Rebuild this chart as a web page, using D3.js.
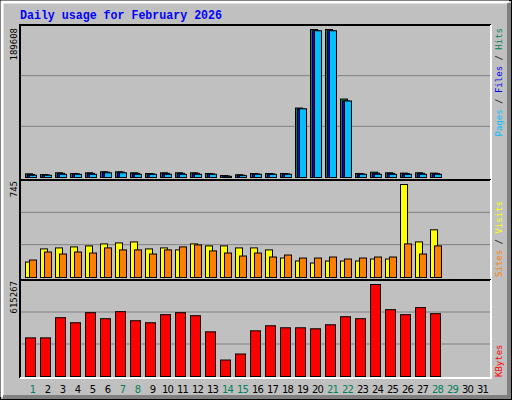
<!DOCTYPE html>
<html>
<head>
<meta charset="utf-8">
<script src="https://cdn.jsdelivr.net/npm/d3@7"></script>
<style>
  body { margin: 0; background: #fff; }
  text { font-family: "DejaVu Sans Mono", monospace; }
</style>
</head>
<body>
<div id="chart"></div>
<script>
const days = d3.range(1, 32);
const weekendDays = [1, 7, 8, 14, 15, 21, 22, 28, 29];

const hits = [4700, 3800, 6000, 5100, 6000, 7300, 7300, 6000, 5100, 6000, 6000, 6000, 5100, 2500, 3500, 5100, 5100, 5100,
  89000, 189608, 189608, 100500, 5100, 6800, 6000, 5600, 6000, 5600];
const files = [3800, 3200, 5300, 4600, 5300, 6800, 6800, 5300, 4600, 5300, 5300, 5300, 4600, 2000, 3000, 4600, 4600, 4600,
  88000, 188000, 188000, 98000, 4600, 5600, 5300, 4900, 5300, 5000];
const pages = [2900, 2900, 4100, 4100, 4100, 6000, 6000, 4100, 4100, 4100, 4100, 4100, 4100, 1500, 2400, 4100, 4100, 4100,
  88000, 188000, 188000, 98000, 4100, 4100, 4100, 4100, 4100, 4100];
const visits = [124, 229, 237, 245, 253, 269, 277, 285, 229, 237, 221, 269, 253, 253, 237, 237, 221, 156,
  132, 116, 132, 132, 132, 148, 148, 745, 285, 382];
const sites = [140, 204, 188, 204, 196, 237, 221, 221, 188, 221, 245, 261, 213, 196, 172, 196, 164, 180,
  156, 156, 164, 148, 156, 164, 164, 269, 188, 253];
const kbytes = [258300, 258300, 393100, 359400, 426800, 386400, 433600, 372900, 359400, 413400, 426800, 406600, 298700,
  110100, 150500, 305500, 339200, 325700, 325700, 319000, 345900, 399800, 386400, 615267, 447000, 413400, 460500, 420100];

const W = 512, H = 400;
const svg = d3.select("#chart").append("svg").attr("width", W).attr("height", H);

// frame
svg.append("rect").attr("x", 0).attr("y", 0).attr("width", W).attr("height", H).attr("fill", "#c0c0c0");
svg.append("rect").attr("x", 0.5).attr("y", 0.5).attr("width", W - 1).attr("height", H - 1).attr("fill", "none").attr("stroke", "#000");
svg.append("path").attr("d", `M2,${H - 3}V2H${W - 3}`).attr("stroke", "#fff").attr("stroke-width", 3).attr("fill", "none");
svg.append("path").attr("d", `M3,${H - 3}H${W - 3}V3`).attr("stroke", "#808080").attr("stroke-width", 4).attr("fill", "none");

svg.append("text").attr("x", 20).attr("y", 19).attr("fill", "#0000ff")
  .style("font-family", "'Liberation Mono', monospace").style("font-weight", "bold").style("font-size", "12.5px")
  .attr("textLength", 202).attr("lengthAdjust", "spacingAndGlyphs")
  .text("Daily usage for February 2026");

const x = d3.scaleLinear().domain([1, 31]).range([25, 475]);
const left = 20, right = 491;

function panel(top, bottom, base, maxVal, maxY) {
  const y = d3.scaleLinear().domain([0, maxVal]).range([base, maxY]);
  const g = svg.append("g");
  const step = (base - top) / 3;
  [1, 2].forEach(k => g.append("line").attr("x1", left).attr("x2", right)
    .attr("y1", base - k * step).attr("y2", base - k * step).attr("stroke", "#808080").attr("stroke-width", 1));
  g.append("path").attr("d", `M${left},${bottom}V${top}H${right}`).attr("stroke", "#000").attr("stroke-width", 2).attr("fill", "none");
  g.append("path").attr("d", `M${left},${bottom}H${right}V${top}`).attr("stroke", "#fff").attr("stroke-width", 2).attr("fill", "none");
  return { g, y };
}

function bars(p, data, off, w, color) {
  p.g.selectAll(null).data(data).enter().append("rect")
    .attr("x", (d, i) => x(i + 1) + off + 0.5)
    .attr("y", d => p.y(d) + 0.5)
    .attr("width", w)
    .attr("height", d => Math.max(0, p.y(0) - p.y(d)))
    .attr("fill", color).attr("stroke", "#000").attr("stroke-width", 1);
}

const p1 = panel(25, 180, 177, 189608, 29);
bars(p1, hits, 0, 7, "#00805c");
bars(p1, files, 2, 7, "#0000ff");
bars(p1, pages, 4, 7, "#00c0ff");

const p2 = panel(180, 280, 277, 745, 184);
bars(p2, visits, 0, 7, "#ffff00");
bars(p2, sites, 4, 7, "#ff8000");

const p3 = panel(280, 378, 376, 615267, 284);
bars(p3, kbytes, 0, 10, "#ff0000");

function vlabel(txt, xx, yy, anchor, parts) {
  const t = svg.append("text").attr("transform", `translate(${xx},${yy}) rotate(-90)`)
    .attr("text-anchor", anchor).style("font-size", "9px");
  if (parts) parts.forEach(([s, c]) => t.append("tspan").attr("fill", c).text(s));
  else t.attr("fill", "#000").text(txt);
}
vlabel("189608", 17, 28, "end");
vlabel("745", 17, 181, "end");
vlabel("615267", 17, 281, "end");

vlabel(null, 502, 28, "end", [["Pages", "#00c0ff"], [" / ", "#000"], ["Files", "#0000ff"], [" / ", "#000"], ["Hits", "#00805c"]]);
vlabel(null, 502, 277, "start", [["Sites", "#ff8000"], [" / ", "#000"], ["Visits", "#ffff00"]]);
vlabel(null, 502, 377, "start", [["KBytes", "#ff0000"]]);

svg.selectAll(null).data(days).enter().append("text")
  .attr("x", d => x(d) + 7.5).attr("y", 393).attr("text-anchor", "middle")
  .style("font-family", "'DejaVu Sans', sans-serif").style("font-size", "10px")
  .style("letter-spacing", "-0.8px")
  .attr("fill", d => weekendDays.includes(d) ? "#00805c" : "#000")
  .text(d => d);
</script>
</body>
</html>
